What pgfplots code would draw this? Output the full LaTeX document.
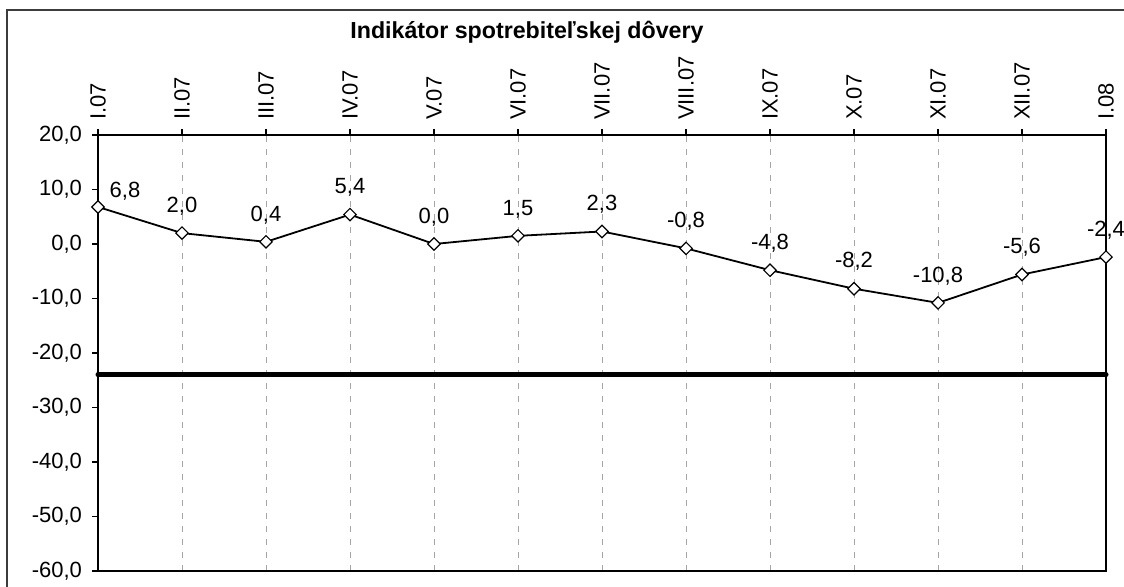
\documentclass[border=0pt]{standalone}
\usepackage{pgfplots}
\pgfplotsset{compat=1.18}
\usepackage{pgfplotstable}
\usepackage{fontspec}
\setmainfont{Liberation Sans}
\definecolor{gridgray}{RGB}{165,165,165}
\definecolor{framegray}{RGB}{60,60,60}
\pgfplotstableread{
x y
0 6.8
1 2.0
2 0.4
3 5.4
4 0.0
5 1.5
6 2.3
7 -0.8
8 -4.8
9 -8.2
10 -10.8
11 -5.6
12 -2.4
}\data
\begin{document}
\begin{tikzpicture}
\useasboundingbox (0,0) rectangle (562pt,293pt);
\draw[line width=1pt, framegray] (3.5pt,-2pt) -- (3.5pt,288pt) -- (565pt,288pt);
\node[font=\fontsize{11.6}{14}\selectfont\bfseries] at (263.5pt,277pt) {Indikátor spotrebiteľskej dôvery};
\begin{axis}[
  at={(49pt,7.5pt)}, anchor=south west,
  scale only axis, width=504pt, height=218pt,
  xmin=0, xmax=12, ymin=-60, ymax=20,
  clip=false,
  xtick={0,...,12},
  xticklabels={I.07,II.07,III.07,IV.07,V.07,VI.07,VII.07,VIII.07,IX.07,X.07,XI.07,XII.07,I.08},
  xticklabel pos=right,
  xtick pos=right,
  ytick pos=left,
  ytick={-60,-50,...,20},
  tick align=outside,
  major tick length=3pt,
  tick style={black, line width=0.6pt},
  axis line style={black, line width=0.75pt},
  xmajorgrids,
  major grid style={gridgray, line width=0.5pt, dash pattern=on 3pt off 3.5pt},
  x tick label style={rotate=90, anchor=west, font=\fontsize{11}{13}\selectfont, xshift=1pt},
  y tick label style={font=\fontsize{11}{13}\selectfont, xshift=-1.5pt},
  yticklabel style={/pgf/number format/.cd, fixed, fixed zerofill, precision=1, use comma, assume math mode=true},
]
\addplot[black, line width=2.5pt, line cap=round] coordinates {(0,-24) (12,-24)};
\addplot[black, line width=0.9pt, mark=square*, mark size=2.2pt,
  mark options={fill=white, rotate=45, line width=0.6pt, solid}] table[x=x,y=y] {\data};
\addplot[draw=none, mark=none, nodes near coords,
  skip coords between index={0}{1},
  every node near coord/.style={anchor=center, yshift=13.5pt, text=black, font=\fontsize{11}{13}\selectfont,
    /pgf/number format/.cd, fixed, fixed zerofill, precision=1, use comma, assume math mode=true}]
  table[x=x,y=y] {\data};
\addplot[draw=none, mark=none, nodes near coords,
  skip coords between index={1}{13},
  every node near coord/.style={anchor=center, yshift=8pt, xshift=13.5pt, text=black, font=\fontsize{11}{13}\selectfont,
    /pgf/number format/.cd, fixed, fixed zerofill, precision=1, use comma, assume math mode=true}]
  table[x=x,y=y] {\data};
\end{axis}
\end{tikzpicture}
\end{document}
